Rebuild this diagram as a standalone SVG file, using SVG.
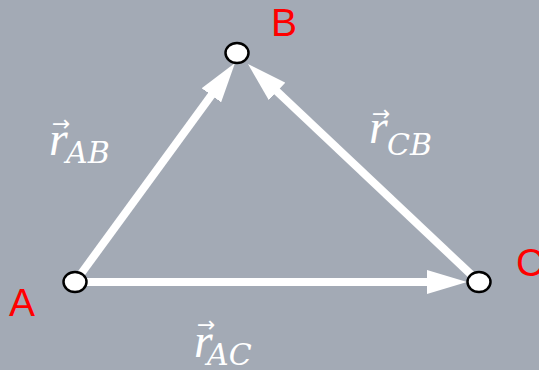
<svg xmlns="http://www.w3.org/2000/svg" width="539" height="370" viewBox="0 0 539 370">
<style>
.bg{fill:#A3AAB5}
.edge{stroke:#FFFFFF;stroke-width:8;fill:none;marker-end:url(#ah)}
.node{fill:#FFFFFF;stroke:#000000;stroke-width:2.5}
.lbl{font-family:"Liberation Sans",Arial,sans-serif;font-size:39px;fill:#FF0000}
.m{font-style:italic;fill:#FFFFFF}
.r{font-family:"Liberation Serif",serif;font-size:48px}
.sub{font-family:"DejaVu Serif","Liberation Serif",serif;font-size:30px}
.vec{font-family:"DejaVu Sans",sans-serif;font-size:22px;fill:#FFFFFF}
</style>
<defs>
<marker id="ah" markerUnits="userSpaceOnUse" markerWidth="40" markerHeight="24" refX="10" refY="12" orient="auto">
<path d="M0,0 L40,12 L0,24 Z" fill="#FFFFFF"/>
</marker>
</defs>
<rect class="bg" x="0" y="0" width="539" height="370"/>
<g id="connectors">
<line class="edge" x1="75" y1="282" x2="217.3" y2="87.2"/>
<line class="edge" x1="479" y1="282" x2="269.8" y2="84.6"/>
<line class="edge" x1="75" y1="282" x2="437" y2="282"/>
</g>
<g id="node-A">
<ellipse class="node" cx="75" cy="282" rx="11.5" ry="10"/>
<text class="lbl" x="9" y="316">A</text>
</g>
<g id="node-B">
<ellipse class="node" cx="237" cy="53" rx="11.5" ry="10"/>
<text class="lbl" x="271" y="36">B</text>
</g>
<g id="node-C">
<ellipse class="node" cx="479" cy="282" rx="11.5" ry="10"/>
<text class="lbl" x="516" y="276">C</text>
</g>
<g id="label-rAB">
<text class="vec" x="52" y="131">→</text>
<text class="m r" x="49" y="155">r</text>
<text class="m sub" x="66" y="163">AB</text>
</g>
<g id="label-rCB">
<text class="vec" x="372" y="121">→</text>
<text class="m r" x="369" y="143">r</text>
<text class="m sub" x="387" y="155">CB</text>
</g>
<g id="label-rAC">
<text class="vec" x="197" y="332">→</text>
<text class="m r" x="194" y="357">r</text>
<text class="m sub" x="207" y="365">AC</text>
</g>
</svg>
